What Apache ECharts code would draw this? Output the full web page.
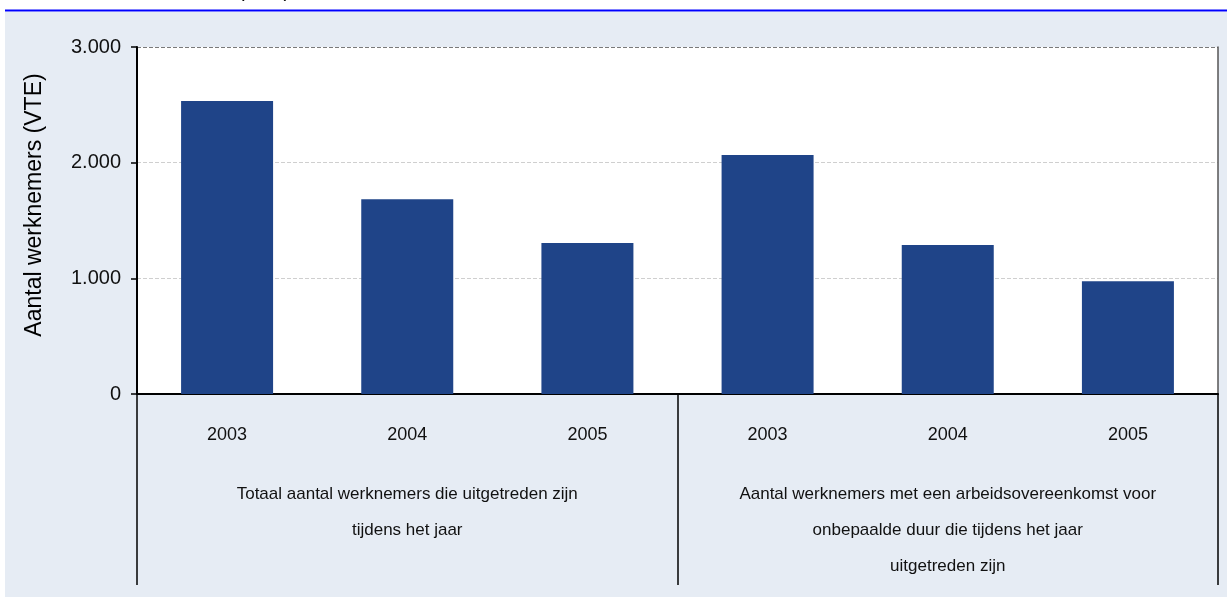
<!DOCTYPE html>
<html>
<head>
<meta charset="utf-8">
<script src="https://cdn.jsdelivr.net/npm/echarts@6/dist/echarts.min.js"></script>
<style>
  html, body { margin: 0; padding: 0; background: #fff; }
  #chart { width: 1227px; height: 597px; }
</style>
</head>
<body>
<div id="chart"></div>
<script>
// data
var years = ['2003', '2004', '2005', '2003', '2004', '2005'];
var groups = [
    'Totaal aantal werknemers die uitgetreden zijn\ntijdens het jaar',
    'Aantal werknemers met een arbeidsovereenkomst voor\nonbepaalde duur die tijdens het jaar\nuitgetreden zijn'
];
var values = [2533, 1684, 1305, 2066, 1288, 975];
var yTicks = [0, 1000, 2000, 3000];
var yName = 'Aantal werknemers (VTE)';

var narrow = '"Liberation Sans Narrow", "Arial Narrow", "Liberation Sans", sans-serif';
var plain = '"Liberation Sans", Arial, sans-serif';

var fmt = function(v){
    return String(v).replace(/\B(?=(\d{3})+(?!\d))/g, '.');
};

var chart = echarts.init(document.getElementById('chart'));
var option = {
    backgroundColor: '#fff',
    animation: false,
    graphic: [
        {
            type: 'rect', z: -10, silent: true,
            shape: { x: 5, y: 12, width: 1222, height: 585 },
            style: { fill: '#e6ecf4' }
        },
        {
            type: 'line', silent: true,
            shape: { x1: 5, y1: 10.5, x2: 1227, y2: 10.5 },
            style: { stroke: '#0000ff', lineWidth: 2 }
        },
        {
            type: 'text', silent: true,
            x: 238, y: 1,
            style: { text: '(VTE)', font: '20px ' + plain, fill: '#000', textVerticalAlign: 'bottom' }
        },
        {
            type: 'text', silent: true,
            x: 35, y: 205, rotation: Math.PI / 2,
            style: { text: yName, font: '23px ' + plain, fill: '#000', textAlign: 'center', textVerticalAlign: 'middle' }
        }
    ],
    grid: {
        left: 137, right: 9, top: 47, bottom: 203,
        show: true, backgroundColor: '#fff', borderWidth: 0
    },
    xAxis: [
        {
            type: 'category',
            data: years,
            position: 'bottom',
            axisLine: { show: true, lineStyle: { color: '#000', width: 2 } },
            axisTick: { show: false },
            axisLabel: { interval: 0, margin: 31, fontFamily: narrow, fontSize: 18, color: '#111', lineHeight: 20 }
        },
        {
            type: 'category',
            data: groups,
            position: 'bottom',
            axisLine: { show: false },
            axisTick: { show: true, interval: 0, length: 191, lineStyle: { color: '#000', width: 1.5 } },
            axisLabel: { interval: 0, hideOverlap: false, margin: 82, fontFamily: narrow, fontSize: 17, color: '#111', lineHeight: 36, align: 'center' }
        }
    ],
    yAxis: [
        {
            type: 'value',
            min: 0, max: 3000, interval: 1000,
            axisLine: { show: true, lineStyle: { color: '#000', width: 2 } },
            axisTick: { show: true, length: 6, lineStyle: { color: '#000', width: 1.5 } },
            axisLabel: {
                margin: 16, fontFamily: plain, fontSize: 20, color: '#111',
                formatter: function(v){ return yTicks.indexOf(v) >= 0 ? fmt(v) : ''; }
            },
            splitLine: {
                show: true,
                lineStyle: { type: 'dashed', color: ['#cfcfcf', '#cfcfcf', '#cfcfcf', '#7a7a7a'], width: 1 }
            }
        },
        {
            type: 'value',
            position: 'right',
            min: 0, max: 3000, interval: 1000,
            axisLine: { show: true, lineStyle: { color: '#555', width: 1.5 } },
            axisTick: { show: false },
            axisLabel: { show: false },
            splitLine: { show: false }
        }
    ],
    series: [
        {
            type: 'bar',
            xAxisIndex: 0,
            yAxisIndex: 0,
            data: values,
            barWidth: 92,
            itemStyle: { color: '#1f4488' }
        }
    ]
};
chart.setOption(option);
</script>
</body>
</html>
